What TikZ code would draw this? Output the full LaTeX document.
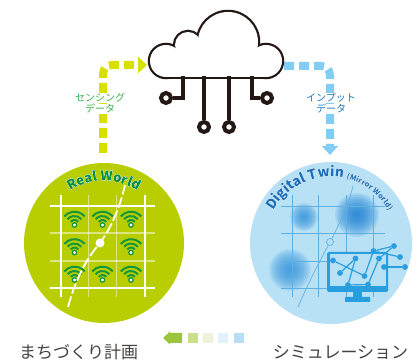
\documentclass[tikz,border=0pt]{standalone}
\usepackage{fontspec}
\newfontfamily\jpfont{Noto Sans CJK JP}
\usetikzlibrary{arrows.meta,decorations.text}

\definecolor{cloudink}{RGB}{35,24,21}
\definecolor{realbg}{RGB}{184,206,0}
\definecolor{wifigreen}{RGB}{20,150,60}
\definecolor{realtext}{RGB}{0,140,65}
\definecolor{sensearrow}{RGB}{215,224,0}
\definecolor{sensetext}{RGB}{60,180,75}
\definecolor{twinbg}{RGB}{185,225,246}
\definecolor{twinblue}{RGB}{40,158,222}
\definecolor{twingrid}{RGB}{95,175,225}
\definecolor{blobdark}{RGB}{20,125,212}
\definecolor{blobmid}{RGB}{50,148,220}
\definecolor{twintext}{RGB}{25,110,185}
\definecolor{inputarrow}{RGB}{130,205,243}
\definecolor{inputtext}{RGB}{30,120,195}
\definecolor{plantext}{RGB}{70,66,65}
\definecolor{backA}{RGB}{155,197,60}
\definecolor{backB}{RGB}{200,223,142}
\definecolor{backC}{RGB}{236,243,218}
\definecolor{backD}{RGB}{226,241,250}
\definecolor{backE}{RGB}{182,222,245}

% soft spot from stacked see-through discs: centre, colour, outer radius
\newcommand{\blob}[3]{%
  \foreach \k in {1,...,12}
    \fill[#2,opacity=0.13] (#1) circle[radius={#3*\k/12}];}

% text bent along the top of a disc, white rim around the letters
\newcommand{\arctext}[6]{%
  \foreach \a in {0,45,...,315}
    \path[shift={(\a:1pt)},decorate,decoration={text along path,text align=center,
      text color=white,text={#6}}] (#1) ++(#3:#2) arc[start angle=#3,end angle=#4,radius=#2];
  \path[decorate,decoration={text along path,text align=center,
    text color=#5,text={#6}}] (#1) ++(#3:#2) arc[start angle=#3,end angle=#4,radius=#2];}

\begin{document}
\begin{tikzpicture}[x=1pt,y=1pt,
  disc/.style={circle,inner sep=0pt,minimum size=#1},
  flow/.style={line width=8pt,dash pattern=on 10pt off 5pt,rounded corners=9pt},
  port/.style={circle,draw=cloudink,fill=white,line width=4pt,inner sep=0pt,minimum size=10pt},
  wire/.style={cloudink,line width=4.5pt},
  wifi/.style={wifigreen,line width=2pt},
  datalabel/.style={font=\jpfont\fontsize{10}{11}\selectfont,fill=white,inner sep=0.6pt},
  caption/.style={font=\jpfont\fontsize{17}{17}\selectfont,text=plantext,inner sep=0pt},
  net/.style={circle,fill=twinblue,inner sep=0pt,minimum size=5.8pt}]
\useasboundingbox (0,0) rectangle (420,363);

%% real world disc
\node[disc=160pt,fill=realbg] (real) at (104,120) {};
\foreach \x/\w/\o in {61/2.2/1,88.5/1.2/0.5,116.5/1.2/0.5,145/2.2/1}
  \draw[white,line width=\w pt,opacity=\o] (\x,168) -- (\x,66);
\foreach \y/\w/\o in {157/2.2/1,130/1.2/0.5,102/1.2/0.5,75/2.2/1}
  \draw[white,line width=\w pt,opacity=\o] (50,\y) -- (155,\y);
\foreach \cx/\cy in {74.5/143.5,102.5/143.5,131/143.5,74.5/116,131/116,74.5/88.5,102.5/88.5,131/88.5}{
  \begin{scope}[shift={(\cx,\cy)}]
    \foreach \r in {5,9,13.3}
      \draw[wifi] (0,-5.5) ++(40:\r) arc[start angle=40,end angle=140,radius=\r];
    \filldraw[fill=white,draw=wifigreen,line width=1.3pt] (0,-5.5) circle[radius=2.2];
  \end{scope}}
\node[disc=9pt,fill=white] (hub) at (100,120) {};
\coordinate (trailS) at (68,56);
\coordinate (trailN) at (125,178);
\draw[white,line width=1.8pt,dash pattern=on 11pt off 3pt]
  (trailS) .. controls (78,92) and (90,108) .. (hub.center)
  .. controls (110,134) and (119,152) .. (trailN);
\arctext{real.center}{62}{150}{30}{realtext}{|\jpfont\bfseries\fontsize{13}{13}\selectfont|Real World}

%% digital twin disc
\node[disc=162pt,fill=twinbg] (twin) at (331,120) {};
\blob{304,146}{blobmid}{14}
\blob{357,148}{blobdark}{22}
\blob{290,93}{blobmid}{21}
\foreach \x in {292,318,346,373}
  \draw[twingrid,line width=0.7pt] (\x,168) -- (\x,66);
\foreach \y in {157,130,102,75}
  \draw[twingrid,line width=0.7pt] (281,\y) -- (385,\y);
\node[circle,draw=twingrid,line width=0.7pt,inner sep=0pt,minimum size=7pt] (mark) at (330,121) {};
\coordinate (pathS) at (298,56);
\coordinate (pathN) at (353,177);
\draw[twingrid,line width=0.7pt] (pathS) .. controls (312,88) and (322,106) .. (mark);
\draw[twingrid,line width=0.7pt] (mark) .. controls (340,140) and (349,160) .. (pathN);
% monitor
\fill[twinblue,rounded corners=1.5pt] (327,71) rectangle (388,111);
\fill[twinbg] (329.5,77) rectangle (385.5,108.5);
\fill[twinblue] (353,72) rectangle (362,65);
\fill[twinblue,rounded corners=0.5pt] (345,66) rectangle (370,61);
\foreach \n/\p in {a/{333,102.5},b/{355.5,104.5},c/{373.5,112},d/{394,117},e/{400,106},f/{379,104.5},
                   g/{384,96},h/{405,96},i/{340,90},j/{364.5,87},k/{348,78},l/{368,78.5}}
  \node[net] (n\n) at (\p) {};
\foreach \s/\t in {a/j,b/k,k/l,l/f,j/c,c/e,d/f,g/h,i/b,c/d}
  \draw[twinblue,line width=1.2pt] (n\s) -- (n\t);
\arctext{twin.center}{66}{160}{20}{twintext}{|\jpfont\bfseries\fontsize{13.5}{14}\selectfont|Digital Twin |\jpfont\bfseries\fontsize{7.5}{8}\selectfont|(Mirror World)}

%% data flows
\coordinate (senseS) at (103,210);
\coordinate (cloudW) at (147,298);
\coordinate (cloudE) at (284,297);
\coordinate (inputE) at (330,208);
\draw[flow,sensearrow,-{Triangle[length=9pt,width=16pt]}] (senseS) |- (cloudW);
\draw[flow,inputarrow,-{Triangle[length=9pt,width=16pt]}] (cloudE) -| (inputE);

%% cloud: ink rims first, then white bodies on top
\foreach \x/\y/\r in {166/302/16,188/318/13,228/321/30,266/302/16}
  \draw[wire] (\x,\y) circle[radius=\r];
\draw[wire] (166,286) rectangle (266,312);
\foreach \x/\y/\r in {166/302/16,188/318/13,228/321/30,266/302/16}
  \fill[white] (\x,\y) circle[radius=\r];
\fill[white] (166,286) rectangle (266,312);
\node[port] (portA) at (166,265) {};
\node[port] (portB) at (204,236) {};
\node[port] (portC) at (229,236) {};
\node[port] (portD) at (267,265) {};
\draw[wire] (183,287) |- (portA);
\draw[wire] (204,287) -- (portB);
\draw[wire] (229,287) -- (portC);
\draw[wire] (252,287) |- (portD);

\node[datalabel,text=sensetext] (senseA) at (100,265) {センシング};
\node[datalabel,text=sensetext] (senseB) at (100,254) {データ};
\node[datalabel,text=inputtext] (inputA) at (331,265) {インプット};
\node[datalabel,text=inputtext] (inputB) at (331,254) {データ};

%% feedback arrow
\fill[backA] (163,25) -- (170,31.5) -- (170,30) -- (182,30)
  -- (182,20) -- (170,20) -- (170,18.5) -- cycle;
\fill[backB] (188,20) rectangle (198,30);
\fill[backC] (203,20) rectangle (213,30);
\fill[backD] (218,20) rectangle (228,30);
\fill[backE] (234,20) rectangle (244,30);

\node[caption] (plan) at (78.5,11) {まちづくり計画};
\node[caption] (sim) at (340.5,11) {シミュレーション};
\end{tikzpicture}
\end{document}
